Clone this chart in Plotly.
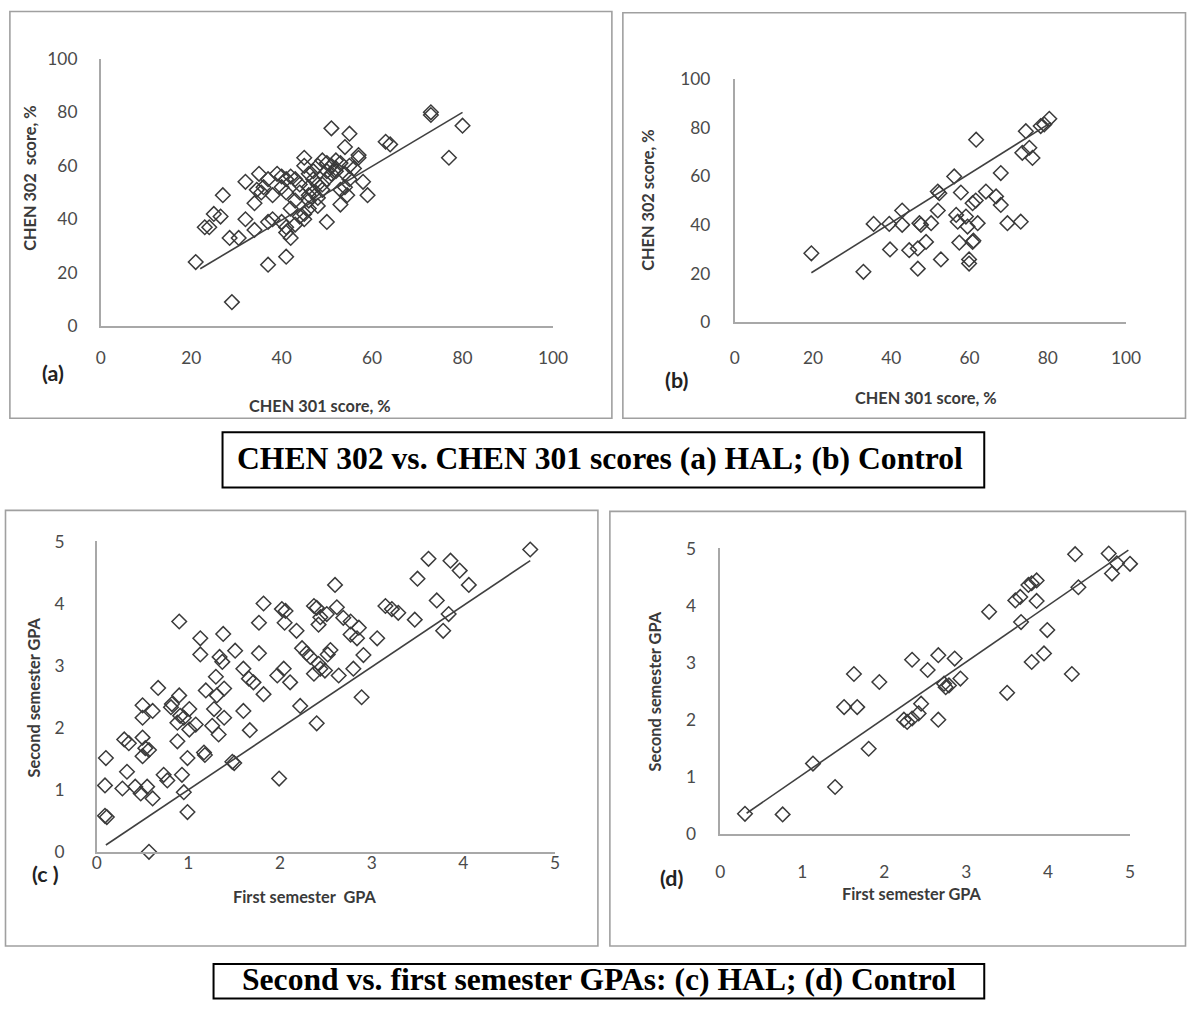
import plotly.graph_objects as go

W, H = 1201, 1009

# ---------------- data ----------------
# (a) HAL: CHEN 302 vs CHEN 301
a_x = [21, 29, 23, 24, 25, 26.5, 27, 28.5, 30.5, 32, 32, 34, 35, 34.5, 35.5, 34, 37, 41, 38, 37,
       40, 41, 40, 41, 38, 40, 41, 41, 42, 42, 43, 44, 45, 46, 47, 48, 49, 45, 45, 46,
       47, 48, 49, 50, 51, 52, 52, 54, 55, 54, 53, 51, 55, 54, 57, 57, 58, 59, 54.5, 53,
       50, 63, 64, 73, 73, 80, 77, 43, 44, 46, 47, 48, 49, 50, 51, 52, 53, 55, 56, 44,
       45, 46, 43, 36, 37, 39, 42, 46, 48, 50]
a_y = [24, 9, 37, 37, 42, 41, 49, 33, 33, 54, 40, 36, 57, 51, 50, 46, 23, 26, 40, 39,
       56, 55, 52, 50, 49, 39, 37, 35, 33, 44, 47, 50, 42, 47, 50, 45, 53, 63, 60, 57,
       55, 53, 51, 58, 60, 58, 59, 57, 55, 52, 51, 74, 72, 67, 63, 64, 54, 49, 49, 45.5,
       39, 69, 68, 79, 80, 75, 63, 55, 53, 52, 58, 60, 62, 61, 57, 62, 61, 60, 59, 41,
       40, 44, 38, 52, 55, 57, 56, 49, 48, 55]
trend_a_x = [22, 80]
trend_a_y = [21.5, 80]

# (b) Control: CHEN 302 vs CHEN 301
b_x = [19.6, 32.9, 35.5, 39.5, 42.8, 42.8, 39.7, 44.6, 46.8, 47.2, 47.6, 50.2, 48.9, 46.8, 51.9,
       52.3, 51.9, 52.7, 56.1, 57.8, 56.6, 57, 59.1, 59.5, 60.8, 62.1, 61.6, 57.4, 60.8, 61,
       59.9, 59.9, 61.7, 64.2, 66.8, 68, 68, 69.7, 73.1, 74.4, 73.5, 75.3, 76.1, 78.2, 79.1, 80.4]
b_y = [28.3, 20.7, 40.4, 40.4, 45.9, 40, 29.9, 29.6, 30.3, 40.7, 40, 40.7, 33, 22, 53.7,
       53, 45.9, 25.8, 59.9, 53.3, 44.1, 41.3, 43.4, 39.3, 48.9, 40.7, 50, 32.7, 33, 33.5,
       25.8, 24.1, 75, 53.7, 51.7, 48.2, 61.3, 40.7, 41.3, 78.5, 69.6, 71.7, 67.5, 80.6, 81.3, 83.6]
trend_b_x = [19.6, 80.8]
trend_b_y = [20.3, 82]

# (c) HAL: second vs first semester GPA
c_x = [4.73, 3.62, 3.86, 3.96, 4.06, 3.50, 3.71, 3.84, 3.78, 2.60, 1.82, 2.02, 2.06, 2.37, 2.40,
       2.62, 2.44, 2.51, 2.42, 2.69, 2.77, 2.86, 2.77, 2.84, 3.06, 3.15, 3.22, 3.29, 3.47, 1.77,
       2.05, 2.18, 0.90, 1.38, 1.13, 1.13, 1.51, 1.34, 1.37, 1.77, 2.24, 2.29, 2.33, 2.55, 2.52,
       2.91, 2.42, 2.44, 2.49, 2.37, 2.64, 2.80, 1.60, 1.66, 1.71, 1.82, 1.97, 2.04, 2.11, 1.30,
       1.39, 1.31, 1.19, 0.67, 0.90, 0.82, 0.81, 0.50, 0.61, 0.50, 1.28, 1.39, 1.26, 1.33, 1.01,
       0.95, 1.08, 1.01, 0.88, 0.91, 0.88, 2.22, 2.40, 2.89, 1.60, 1.67, 0.30, 0.35, 0.50, 0.53,
       0.57, 0.50, 0.10, 1.17, 1.18, 0.99, 1.48, 1.50, 0.33, 0.28, 0.42, 0.48, 0.55, 0.61, 0.73,
       0.77, 0.93, 0.95, 0.09, 0.09, 0.11, 0.99, 1.99, 0.57]
c_y = [4.87, 4.72, 4.69, 4.53, 4.30, 4.40, 4.05, 3.83, 3.56, 4.30, 4.00, 3.91, 3.88, 3.96, 3.93,
       3.94, 3.78, 3.83, 3.66, 3.77, 3.71, 3.61, 3.50, 3.44, 3.44, 3.96, 3.91, 3.85, 3.74, 3.69,
       3.69, 3.56, 3.71, 3.51, 3.44, 3.18, 3.24, 3.14, 3.06, 3.20, 3.28, 3.20, 3.14, 3.25, 3.18,
       3.17, 3.03, 2.95, 2.92, 2.87, 2.84, 2.95, 2.95, 2.79, 2.73, 2.54, 2.84, 2.95, 2.73, 2.82,
       2.63, 2.52, 2.60, 2.64, 2.52, 2.38, 2.33, 2.36, 2.27, 2.16, 2.30, 2.16, 2.03, 1.89, 2.30,
       2.16, 2.05, 1.97, 2.08, 2.19, 1.78, 2.35, 2.07, 2.49, 2.27, 1.96, 1.81, 1.75, 1.84, 1.67,
       1.64, 1.54, 1.51, 1.60, 1.56, 1.51, 1.45, 1.43, 1.29, 1.02, 1.05, 0.94, 1.05, 0.86, 1.24,
       1.15, 1.24, 0.96, 1.07, 0.58, 0.56, 0.64, 1.18, 0.00]
trend_c_x = [0.10, 4.73]
trend_c_y = [0.11, 4.69]

# (d) Control: second vs first semester GPA
d_x = [0.30, 0.76, 1.13, 1.40, 1.81, 1.51, 1.67, 1.63, 1.94, 2.24, 2.28, 2.34, 2.42, 2.45, 2.34,
       2.53, 2.66, 2.66, 2.73, 2.75, 2.79, 2.86, 2.93, 3.50, 3.28, 3.67, 3.60, 3.66, 3.76, 3.80,
       3.86, 3.86, 3.99, 3.80, 3.95, 4.29, 4.33, 4.37, 4.74, 4.78, 4.84, 5.00]
d_y = [0.35, 0.34, 1.23, 0.82, 1.49, 2.22, 2.22, 2.80, 2.66, 2.00, 1.96, 2.02, 2.11, 2.28, 3.05,
       2.87, 3.13, 2.00, 2.63, 2.57, 2.60, 3.07, 2.72, 2.47, 3.89, 3.71, 4.09, 4.15, 4.36, 4.39,
       4.44, 4.08, 3.57, 3.01, 3.16, 2.80, 4.90, 4.32, 4.91, 4.56, 4.74, 4.73]
trend_d_x = [0.32, 4.98]
trend_d_y = [0.36, 4.97]

score_ticks = [0, 20, 40, 60, 80, 100]
gpa_ticks = [0, 1, 2, 3, 4, 5]

# ---------------- helpers ----------------
# the photographed page shows a slight scale/offset; positions below are given in
# target-picture pixels and mapped back to page pixels here
SX, OX = 0.985, 4.1
SY, OY = 0.978, 11.2
K = 1.02  # font / marker size compensation


def px(p):
    return min(max((p - OX) / SX, 0.5), W - 0.5)


def py(p):
    return min(max((p - OY) / SY, 0.5), H - 0.5)


def fx(p):
    return px(p) / W


def fy(p):
    return 1 - py(p) / H


MARK = dict(symbol="diamond-open", size=11 * K, color="#3a3a3a", line=dict(width=1.5, color="#3a3a3a"))
LINE = dict(color="#404040", width=1.6)
TICKFONT = dict(family="Lato, 'Open Sans', sans-serif", size=17 * K, color="#4a4a4a")
TITLEFONT = dict(family="Lato, 'Open Sans', sans-serif", size=16 * K, color="#3a3a3a", weight="bold")

fig = go.Figure()

panels = [
    ("x", "y", a_x, a_y, trend_a_x, trend_a_y),
    ("x2", "y2", b_x, b_y, trend_b_x, trend_b_y),
    ("x3", "y3", c_x, c_y, trend_c_x, trend_c_y),
    ("x4", "y4", d_x, d_y, trend_d_x, trend_d_y),
]
for xa, ya, xs, ys, tx, ty in panels:
    fig.add_trace(go.Scatter(x=xs, y=ys, mode="markers", marker=MARK, xaxis=xa, yaxis=ya,
                             cliponaxis=False, showlegend=False, hoverinfo="x+y"))
    fig.add_trace(go.Scatter(x=tx, y=ty, mode="lines", line=LINE, xaxis=xa, yaxis=ya,
                             cliponaxis=False, showlegend=False, hoverinfo="skip"))


def axis(domain, rng, ticks, anchor, standoff):
    return dict(domain=domain, range=rng, tickvals=ticks, ticktext=[str(t) for t in ticks],
                anchor=anchor, showgrid=False, zeroline=False, showline=True,
                linecolor="#a8a8a8", linewidth=1.6, ticks="", tickfont=TICKFONT,
                ticklabelstandoff=standoff, fixedrange=True)


layout = dict(
    width=W, height=H, margin=dict(l=0, r=0, t=0, b=0),
    paper_bgcolor="white", plot_bgcolor="white", showlegend=False,
    xaxis=axis([fx(100), fx(553)], [0, 100], score_ticks, "y", 15),
    yaxis=axis([fy(326), fy(59)], [0, 100], score_ticks, "x", 18),
    xaxis2=axis([fx(735), fx(1127)], [0, 100], score_ticks, "y2", 19),
    yaxis2=axis([fy(322), fy(79)], [0, 100], score_ticks, "x2", 19),
    xaxis3=axis([fx(96), fx(555)], [0, 5], gpa_ticks, "y3", -5),
    yaxis3=axis([fy(851), fy(541)], [0, 5], gpa_ticks, "x3", 27),
    xaxis4=axis([fx(720.7), fx(1131)], [0, 5], gpa_ticks, "y4", 22),
    yaxis4=axis([fy(833), fy(548)], [0, 5], gpa_ticks, "x4", 19),
)
fig.update_layout(**layout)


# ---------------- frames ----------------
def rect(x0, y0, x1, y1, color, width):
    fig.add_shape(type="rect", xref="paper", yref="paper",
                  x0=fx(x0), x1=fx(x1), y0=fy(y1), y1=fy(y0),
                  line=dict(color=color, width=width), fillcolor="rgba(0,0,0,0)", layer="below")


rect(9, 11, 612, 418, "#a0a0a0", 1.6)
rect(623, 13, 1199, 418, "#a0a0a0", 1.6)
rect(4, 510, 598, 945, "#a0a0a0", 1.6)
rect(610, 511, 1199, 945, "#a0a0a0", 1.6)
rect(222, 432, 985, 487, "#000000", 2)
rect(213, 963, 985, 1008, "#000000", 2)


# ---------------- text ----------------
def text(x, y, s, font, angle=0):
    fig.add_annotation(xref="paper", yref="paper", x=fx(x), y=fy(y), text=s, showarrow=False,
                       xanchor="center", yanchor="middle", textangle=angle, font=font)


text(28, 178, "CHEN 302  score, %", TITLEFONT, -90)
text(320, 405, "CHEN 301 score, %", TITLEFONT)
text(647, 200, "CHEN 302 score, %", TITLEFONT, -90)
text(927, 397, "CHEN 301 score, %", TITLEFONT)
text(33, 697, "Second semester GPA", TITLEFONT, -90)
text(305, 896, "First semester  GPA", TITLEFONT)
text(655, 691, "Second semester GPA", TITLEFONT, -90)
text(913, 893, "First semester GPA", TITLEFONT)

LABFONT = dict(family="Lato, 'Open Sans', sans-serif", size=21 * K, color="#222222", weight="bold")
text(52, 373, "(a)", LABFONT)
text(677, 380, "(b)", LABFONT)
text(45, 873, "(c )", LABFONT)
text(672, 877, "(d)", LABFONT)

CAPFONT = dict(family="'Liberation Serif', 'Times New Roman', serif", size=31 * K, color="#000000", weight="bold")
text(600, 458, "CHEN 302 vs. CHEN 301 scores (a) HAL; (b) Control", CAPFONT)
text(599, 979, "Second vs. first semester GPAs: (c) HAL; (d) Control", CAPFONT)

fig.write_html(
    "out.html",
    config={"displayModeBar": False},
    post_script="document.documentElement.style.margin='0';document.body.style.margin='0';"
                "document.body.style.padding='0';document.documentElement.style.overflow='hidden';"
                "document.body.style.overflow='hidden';",
)
